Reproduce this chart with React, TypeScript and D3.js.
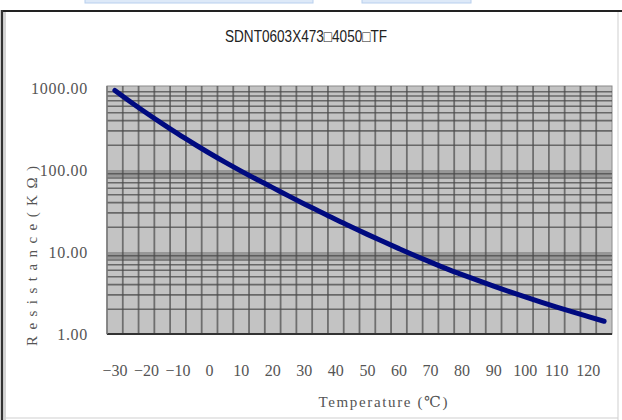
import React from 'react';
import * as d3 from 'd3';

const title = 'SDNT0603X473□4050□TF';
const xTitle = 'Temperature (℃)';
const yTitle = 'Resistance(KΩ)';

const temperatures = [-30, -25, -20, -15, -10, -5, 0, 5, 10, 15, 20, 25, 30, 35, 40, 45, 50, 55, 60, 65, 70, 75, 80, 85, 90, 95, 100, 105, 110, 115, 120, 125];
const resistances = [933, 676, 495, 367, 275, 209, 160, 124, 97.0, 76.6, 61.0, 48.4, 38.6, 31.0, 24.9, 20.2, 16.4, 13.4, 11.0, 9.06, 7.52, 6.28, 5.3, 4.5, 3.84, 3.29, 2.83, 2.45, 2.13, 1.86, 1.63, 1.43];

const xTicks = [-30, -20, -10, 0, 10, 20, 30, 40, 50, 60, 70, 80, 90, 100, 110, 120];
const yTicks = [1, 10, 100, 1000];
const yTickLabels = ['1.00', '10.00', '100.00', '1000.00'];

const W = 622;
const H = 420;
const plot = { left: 107, right: 612, top: 86, bottom: 334 };

export default function App() {
  const x = d3.scaleLinear().domain([-32.5, 127.5]).range([plot.left, plot.right]);
  const y = d3.scaleLog().domain([1, 1000]).range([plot.bottom, 88]);

  const gridX = d3.range(-27.5, 127.5, 5);
  const minorY: number[] = [];
  [1, 10, 100].forEach((d) => {
    for (let m = 2; m <= 9; m++) minorY.push(d * m);
  });
  const bands = [10, 100];

  const pts = temperatures.map((t, i) => [t, resistances[i]] as [number, number]);
  const line = d3
    .line<[number, number]>()
    .x((d) => x(d[0]))
    .y((d) => y(d[1]))
    .curve(d3.curveMonotoneX);

  const serif = '"Liberation Serif", "DejaVu Serif", serif';

  return (
    <svg width={W} height={H} style={{ position: 'absolute', left: 0, top: 0, background: '#fff' }}>
      {/* top tabs artifact */}
      <rect x={85} y={-2} width={228} height={5} fill="#dde9f8" stroke="#b8cfee" />
      <rect x={362} y={-2} width={109} height={5} fill="#dde9f8" stroke="#b8cfee" />

      {/* frame */}
      <line x1={2} y1={11} x2={W} y2={11} stroke="#222" strokeWidth={2} />
      <line x1={2} y1={10} x2={2} y2={H} stroke="#333" strokeWidth={2.5} />
      <line x1={5} y1={12} x2={5} y2={H} stroke="#aaa" strokeWidth={1} />
      <line x1={618} y1={12} x2={618} y2={H} stroke="#cfcfcf" strokeWidth={1} />
      <line x1={4} y1={418} x2={618} y2={418} stroke="#cfcfcf" strokeWidth={1} />

      {/* title */}
      <text
        x={306}
        y={42}
        textAnchor="middle"
        fontFamily='"Liberation Sans", Arial, sans-serif'
        fontSize={16}
        fill="#222"
        textLength={162}
        lengthAdjust="spacingAndGlyphs"
      >
        {title}
      </text>

      {/* plot area */}
      <rect
        x={plot.left}
        y={plot.top}
        width={plot.right - plot.left}
        height={plot.bottom - plot.top}
        fill="#c3c3c3"
        stroke="#8a8a8a"
        strokeWidth={1}
      />
      {bands.map((b) => (
        <rect
          key={'b' + b}
          x={plot.left}
          y={y(b)}
          width={plot.right - plot.left}
          height={y(b * 0.82) - y(b)}
          fill="#979797"
        />
      ))}
      {minorY.map((v) => (
        <line
          key={'my' + v}
          x1={plot.left}
          x2={plot.right}
          y1={y(v)}
          y2={y(v)}
          stroke="#4a4a4a"
          strokeOpacity={0.75}
          strokeWidth={1.6}
        />
      ))}
      {gridX.map((v) => (
        <line
          key={'gx' + v}
          x1={x(v)}
          x2={x(v)}
          y1={plot.top}
          y2={plot.bottom}
          stroke="#4a4a4a"
          strokeOpacity={0.7}
          strokeWidth={1.8}
        />
      ))}
      <line x1={plot.left} x2={plot.right} y1={plot.bottom} y2={plot.bottom} stroke="#333" strokeWidth={2} />
      <line x1={plot.left} x2={plot.left} y1={plot.top} y2={plot.bottom} stroke="#777" strokeWidth={1.5} />

      {/* curve */}
      <path d={line(pts) || ''} fill="none" stroke="#000a80" strokeWidth={5} strokeLinecap="round" strokeLinejoin="round" />

      {/* y tick labels */}
      {yTicks.map((v, i) => (
        <text
          key={'yt' + v}
          x={88}
          y={y(v) + 6}
          textAnchor="end"
          fontFamily={serif}
          fontSize={16}
          letterSpacing={0.7}
          fill="#555"
        >
          {yTickLabels[i]}
        </text>
      ))}

      {/* x tick labels */}
      {xTicks.map((v) => (
        <text
          key={'xt' + v}
          x={x(v)}
          y={376}
          textAnchor="middle"
          fontFamily={serif}
          fontSize={16}
          fill="#555"
        >
          {v < 0 ? '−' + Math.abs(v) : String(v)}
        </text>
      ))}

      {/* axis titles */}
      <text
        x={383}
        y={407}
        textAnchor="middle"
        fontFamily={serif}
        fontSize={15}
        fill="#555"
        textLength={129}
        lengthAdjust="spacing"
      >
        {xTitle}
      </text>
      <text
        transform="translate(37,256) rotate(-90)"
        textAnchor="middle"
        fontFamily={serif}
        fontSize={15}
        fill="#555"
        textLength={180}
        lengthAdjust="spacing"
      >
        {yTitle}
      </text>
    </svg>
  );
}
